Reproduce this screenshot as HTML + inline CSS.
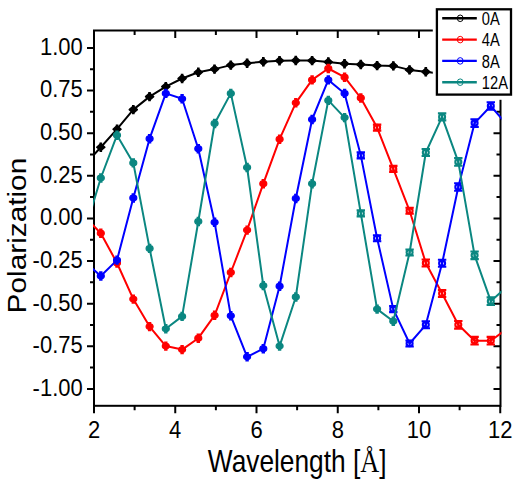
<!DOCTYPE html>
<html><head><meta charset="utf-8"><style>
html,body{margin:0;padding:0;background:#fff;width:520px;height:482px;overflow:hidden}
svg{display:block}
text{font-family:"Liberation Sans",sans-serif;fill:#000}
</style></head><body>
<svg width="520" height="482" viewBox="0 0 520 482">
<defs><clipPath id="c"><rect x="93" y="29.5" width="408.5" height="377.3"/></clipPath></defs>
<rect x="94" y="30.5" width="406.5" height="375.3" fill="none" stroke="#000" stroke-width="2"/>
<path d="M94.00 405.8v7.5M94.00 30.5v7.5M134.62 405.8v4.5M134.62 30.5v4.5M175.25 405.8v7.5M175.25 30.5v7.5M215.88 405.8v4.5M215.88 30.5v4.5M256.50 405.8v7.5M256.50 30.5v7.5M297.12 405.8v4.5M297.12 30.5v4.5M337.75 405.8v7.5M337.75 30.5v7.5M378.38 405.8v4.5M378.38 30.5v4.5M419.00 405.8v7.5M419.00 30.5v7.5M459.62 405.8v4.5M459.62 30.5v4.5M500.25 405.8v7.5M500.25 30.5v7.5M94 388.90h-7M500.5 388.90h-7M94 367.59h-4M500.5 367.59h-4M94 346.27h-7M500.5 346.27h-7M94 324.96h-4M500.5 324.96h-4M94 303.65h-7M500.5 303.65h-7M94 282.34h-4M500.5 282.34h-4M94 261.02h-7M500.5 261.02h-7M94 239.71h-4M500.5 239.71h-4M94 218.40h-7M500.5 218.40h-7M94 197.09h-4M500.5 197.09h-4M94 175.78h-7M500.5 175.78h-7M94 154.46h-4M500.5 154.46h-4M94 133.15h-7M500.5 133.15h-7M94 111.84h-4M500.5 111.84h-4M94 90.53h-7M500.5 90.53h-7M94 69.21h-4M500.5 69.21h-4M94 47.90h-7M500.5 47.90h-7" stroke="#000" stroke-width="2" fill="none"/>
<g clip-path="url(#c)" fill="none" stroke-width="2" stroke-linejoin="round">
<polyline stroke="#000000" points="84.5,165.0 100.8,147.2 117.0,129.2 133.3,109.6 149.6,96.6 165.8,86.6 182.1,78.5 198.3,72.3 214.6,69.1 230.8,65.1 247.1,63.2 263.3,61.8 279.6,60.7 295.8,60.5 312.1,60.6 328.3,62.0 344.6,63.7 360.8,64.5 377.1,65.6 393.3,65.9 409.6,69.9 425.8,71.8 442.1,74.0 458.3,76.0 474.6,78.0 490.8,80.0 507.1,82.0"/>
<g stroke="#000000" fill="#000000" stroke-width="1.4" stroke-linejoin="round"><path d="M80.5 165.0L84.5 161.4L88.6 165.0L84.5 168.6Z"/><path stroke-width="2" d="M84.5 161.3V168.7M83.2 161.3h2.6M83.2 168.7h2.6"/></g>
<g stroke="#000000" fill="#000000" stroke-width="1.4" stroke-linejoin="round"><path d="M96.7 147.2L100.8 143.6L104.9 147.2L100.8 150.8Z"/><path stroke-width="2" d="M100.8 143.5V150.9M99.5 143.5h2.6M99.5 150.9h2.6"/></g>
<g stroke="#000000" fill="#000000" stroke-width="1.4" stroke-linejoin="round"><path d="M113.0 129.2L117.0 125.6L121.1 129.2L117.0 132.8Z"/><path stroke-width="2" d="M117.0 125.5V132.9M115.8 125.5h2.6M115.8 132.9h2.6"/></g>
<g stroke="#000000" fill="#000000" stroke-width="1.4" stroke-linejoin="round"><path d="M129.2 109.6L133.3 106.0L137.4 109.6L133.3 113.2Z"/><path stroke-width="2" d="M133.3 105.9V113.3M132.0 105.9h2.6M132.0 113.3h2.6"/></g>
<g stroke="#000000" fill="#000000" stroke-width="1.4" stroke-linejoin="round"><path d="M145.5 96.6L149.6 93.0L153.7 96.6L149.6 100.2Z"/><path stroke-width="2" d="M149.6 92.9V100.3M148.2 92.9h2.6M148.2 100.3h2.6"/></g>
<g stroke="#000000" fill="#000000" stroke-width="1.4" stroke-linejoin="round"><path d="M161.7 86.6L165.8 83.0L169.9 86.6L165.8 90.2Z"/><path stroke-width="2" d="M165.8 82.9V90.3M164.5 82.9h2.6M164.5 90.3h2.6"/></g>
<g stroke="#000000" fill="#000000" stroke-width="1.4" stroke-linejoin="round"><path d="M178.0 78.5L182.1 74.9L186.2 78.5L182.1 82.1Z"/><path stroke-width="2" d="M182.1 74.8V82.2M180.8 74.8h2.6M180.8 82.2h2.6"/></g>
<g stroke="#000000" fill="#000000" stroke-width="1.4" stroke-linejoin="round"><path d="M194.2 72.3L198.3 68.7L202.4 72.3L198.3 75.9Z"/><path stroke-width="2" d="M198.3 68.6V76.0M197.0 68.6h2.6M197.0 76.0h2.6"/></g>
<g stroke="#000000" fill="#000000" stroke-width="1.4" stroke-linejoin="round"><path d="M210.5 69.1L214.6 65.5L218.7 69.1L214.6 72.7Z"/><path stroke-width="2" d="M214.6 65.4V72.8M213.2 65.4h2.6M213.2 72.8h2.6"/></g>
<g stroke="#000000" fill="#000000" stroke-width="1.4" stroke-linejoin="round"><path d="M226.7 65.1L230.8 61.5L234.9 65.1L230.8 68.7Z"/><path stroke-width="2" d="M230.8 61.4V68.8M229.5 61.4h2.6M229.5 68.8h2.6"/></g>
<g stroke="#000000" fill="#000000" stroke-width="1.4" stroke-linejoin="round"><path d="M243.0 63.2L247.1 59.6L251.2 63.2L247.1 66.8Z"/><path stroke-width="2" d="M247.1 59.5V66.9M245.8 59.5h2.6M245.8 66.9h2.6"/></g>
<g stroke="#000000" fill="#000000" stroke-width="1.4" stroke-linejoin="round"><path d="M259.2 61.8L263.3 58.2L267.4 61.8L263.3 65.4Z"/><path stroke-width="2" d="M263.3 58.1V65.5M262.0 58.1h2.6M262.0 65.5h2.6"/></g>
<g stroke="#000000" fill="#000000" stroke-width="1.4" stroke-linejoin="round"><path d="M275.4 60.7L279.6 57.1L283.7 60.7L279.6 64.3Z"/><path stroke-width="2" d="M279.6 57.0V64.4M278.2 57.0h2.6M278.2 64.4h2.6"/></g>
<g stroke="#000000" fill="#000000" stroke-width="1.4" stroke-linejoin="round"><path d="M291.7 60.5L295.8 56.9L299.9 60.5L295.8 64.1Z"/><path stroke-width="2" d="M295.8 56.8V64.2M294.5 56.8h2.6M294.5 64.2h2.6"/></g>
<g stroke="#000000" fill="#000000" stroke-width="1.4" stroke-linejoin="round"><path d="M307.9 60.6L312.1 57.0L316.2 60.6L312.1 64.2Z"/><path stroke-width="2" d="M312.1 56.9V64.3M310.8 56.9h2.6M310.8 64.3h2.6"/></g>
<g stroke="#000000" fill="#000000" stroke-width="1.4" stroke-linejoin="round"><path d="M324.2 62.0L328.3 58.4L332.4 62.0L328.3 65.6Z"/><path stroke-width="2" d="M328.3 58.3V65.7M327.0 58.3h2.6M327.0 65.7h2.6"/></g>
<g stroke="#000000" fill="#000000" stroke-width="1.4" stroke-linejoin="round"><path d="M340.4 63.7L344.6 60.1L348.7 63.7L344.6 67.3Z"/><path stroke-width="2" d="M344.6 60.0V67.4M343.2 60.0h2.6M343.2 67.4h2.6"/></g>
<g stroke="#000000" fill="#000000" stroke-width="1.4" stroke-linejoin="round"><path d="M356.7 64.5L360.8 60.9L364.9 64.5L360.8 68.1Z"/><path stroke-width="2" d="M360.8 60.8V68.2M359.5 60.8h2.6M359.5 68.2h2.6"/></g>
<g stroke="#000000" fill="#000000" stroke-width="1.4" stroke-linejoin="round"><path d="M372.9 65.6L377.1 62.0L381.2 65.6L377.1 69.2Z"/><path stroke-width="2" d="M377.1 61.9V69.3M375.8 61.9h2.6M375.8 69.3h2.6"/></g>
<g stroke="#000000" fill="#000000" stroke-width="1.4" stroke-linejoin="round"><path d="M389.2 65.9L393.3 62.3L397.4 65.9L393.3 69.5Z"/><path stroke-width="2" d="M393.3 62.2V69.6M392.0 62.2h2.6M392.0 69.6h2.6"/></g>
<g stroke="#000000" fill="#000000" stroke-width="1.4" stroke-linejoin="round"><path d="M405.4 69.9L409.6 66.3L413.7 69.9L409.6 73.5Z"/><path stroke-width="2" d="M409.6 66.2V73.6M408.2 66.2h2.6M408.2 73.6h2.6"/></g>
<g stroke="#000000" fill="#000000" stroke-width="1.4" stroke-linejoin="round"><path d="M421.7 71.8L425.8 68.2L429.9 71.8L425.8 75.4Z"/><path stroke-width="2" d="M425.8 68.1V75.5M424.5 68.1h2.6M424.5 75.5h2.6"/></g>
<g stroke="#000000" fill="#000000" stroke-width="1.4" stroke-linejoin="round"><path d="M437.9 74.0L442.1 70.4L446.2 74.0L442.1 77.6Z"/><path stroke-width="2" d="M442.1 70.3V77.7M440.8 70.3h2.6M440.8 77.7h2.6"/></g>
<g stroke="#000000" fill="#000000" stroke-width="1.4" stroke-linejoin="round"><path d="M454.2 76.0L458.3 72.4L462.4 76.0L458.3 79.6Z"/><path stroke-width="2" d="M458.3 72.3V79.7M457.0 72.3h2.6M457.0 79.7h2.6"/></g>
<g stroke="#000000" fill="#000000" stroke-width="1.4" stroke-linejoin="round"><path d="M470.4 78.0L474.6 74.4L478.7 78.0L474.6 81.6Z"/><path stroke-width="2" d="M474.6 74.3V81.7M473.2 74.3h2.6M473.2 81.7h2.6"/></g>
<g stroke="#000000" fill="#000000" stroke-width="1.4" stroke-linejoin="round"><path d="M486.7 80.0L490.8 76.4L494.9 80.0L490.8 83.6Z"/><path stroke-width="2" d="M490.8 76.3V83.7M489.5 76.3h2.6M489.5 83.7h2.6"/></g>
<g stroke="#000000" fill="#000000" stroke-width="1.4" stroke-linejoin="round"><path d="M502.9 82.0L507.1 78.4L511.2 82.0L507.1 85.6Z"/><path stroke-width="2" d="M507.1 78.3V85.7M505.8 78.3h2.6M505.8 85.7h2.6"/></g>
<polyline stroke="#ff0000" points="84.5,216.5 100.8,233.2 117.0,263.0 133.3,299.1 149.6,326.6 165.8,346.1 182.1,349.6 198.3,338.2 214.6,315.3 230.8,272.5 247.1,230.1 263.3,183.7 279.6,139.2 295.8,102.8 312.1,79.9 328.3,68.5 344.6,77.2 360.8,98.0 377.1,127.6 393.3,168.9 409.6,210.8 425.8,263.0 442.1,293.5 458.3,324.8 474.6,340.7 490.8,340.7 507.1,328.6"/>
<g stroke="#ff0000" fill="#ff0000" stroke-width="1.2"><ellipse cx="84.5" cy="216.5" rx="3.5" ry="2.8"/><path stroke-width="2" d="M84.5 212.8V220.2M82.8 212.8h3.4M82.8 220.2h3.4"/></g>
<g stroke="#ff0000" fill="#ff0000" stroke-width="1.2"><ellipse cx="100.8" cy="233.2" rx="3.5" ry="2.8"/><path stroke-width="2" d="M100.8 229.5V236.9M99.1 229.5h3.4M99.1 236.9h3.4"/></g>
<g stroke="#ff0000" fill="#ff0000" stroke-width="1.2"><ellipse cx="117.0" cy="263.0" rx="3.5" ry="2.8"/><path stroke-width="2" d="M117.0 259.3V266.7M115.3 259.3h3.4M115.3 266.7h3.4"/></g>
<g stroke="#ff0000" fill="#ff0000" stroke-width="1.2"><ellipse cx="133.3" cy="299.1" rx="3.5" ry="2.8"/><path stroke-width="2" d="M133.3 295.4V302.8M131.6 295.4h3.4M131.6 302.8h3.4"/></g>
<g stroke="#ff0000" fill="#ff0000" stroke-width="1.2"><ellipse cx="149.6" cy="326.6" rx="3.5" ry="2.8"/><path stroke-width="2" d="M149.6 322.9V330.3M147.9 322.9h3.4M147.9 330.3h3.4"/></g>
<g stroke="#ff0000" fill="#ff0000" stroke-width="1.2"><ellipse cx="165.8" cy="346.1" rx="3.5" ry="2.8"/><path stroke-width="2" d="M165.8 342.4V349.8M164.1 342.4h3.4M164.1 349.8h3.4"/></g>
<g stroke="#ff0000" fill="#ff0000" stroke-width="1.2"><ellipse cx="182.1" cy="349.6" rx="3.5" ry="2.8"/><path stroke-width="2" d="M182.1 345.9V353.3M180.4 345.9h3.4M180.4 353.3h3.4"/></g>
<g stroke="#ff0000" fill="#ff0000" stroke-width="1.2"><ellipse cx="198.3" cy="338.2" rx="3.5" ry="2.8"/><path stroke-width="2" d="M198.3 334.5V341.9M196.6 334.5h3.4M196.6 341.9h3.4"/></g>
<g stroke="#ff0000" fill="#ff0000" stroke-width="1.2"><ellipse cx="214.6" cy="315.3" rx="3.5" ry="2.8"/><path stroke-width="2" d="M214.6 311.6V319.0M212.9 311.6h3.4M212.9 319.0h3.4"/></g>
<g stroke="#ff0000" fill="#ff0000" stroke-width="1.2"><ellipse cx="230.8" cy="272.5" rx="3.5" ry="2.8"/><path stroke-width="2" d="M230.8 268.8V276.2M229.1 268.8h3.4M229.1 276.2h3.4"/></g>
<g stroke="#ff0000" fill="#ff0000" stroke-width="1.2"><ellipse cx="247.1" cy="230.1" rx="3.5" ry="2.8"/><path stroke-width="2" d="M247.1 226.4V233.8M245.4 226.4h3.4M245.4 233.8h3.4"/></g>
<g stroke="#ff0000" fill="#ff0000" stroke-width="1.2"><ellipse cx="263.3" cy="183.7" rx="3.5" ry="2.8"/><path stroke-width="2" d="M263.3 180.0V187.4M261.6 180.0h3.4M261.6 187.4h3.4"/></g>
<g stroke="#ff0000" fill="#ff0000" stroke-width="1.2"><ellipse cx="279.6" cy="139.2" rx="3.5" ry="2.8"/><path stroke-width="2" d="M279.6 135.5V142.9M277.9 135.5h3.4M277.9 142.9h3.4"/></g>
<g stroke="#ff0000" fill="#ff0000" stroke-width="1.2"><ellipse cx="295.8" cy="102.8" rx="3.5" ry="2.8"/><path stroke-width="2" d="M295.8 99.1V106.5M294.1 99.1h3.4M294.1 106.5h3.4"/></g>
<g stroke="#ff0000" fill="#ff0000" stroke-width="1.2"><ellipse cx="312.1" cy="79.9" rx="3.5" ry="2.8"/><path stroke-width="2" d="M312.1 76.2V83.6M310.4 76.2h3.4M310.4 83.6h3.4"/></g>
<g stroke="#ff0000" fill="#ff0000" stroke-width="1.2"><ellipse cx="328.3" cy="68.5" rx="3.5" ry="2.8"/><path stroke-width="2" d="M328.3 64.8V72.2M326.6 64.8h3.4M326.6 72.2h3.4"/></g>
<g stroke="#ff0000" fill="#ff0000" stroke-width="1.2"><ellipse cx="344.6" cy="77.2" rx="3.5" ry="2.8"/><path stroke-width="2" d="M344.6 73.5V80.9M342.9 73.5h3.4M342.9 80.9h3.4"/></g>
<g stroke="#ff0000" fill="#ff0000" stroke-width="1.2"><ellipse cx="360.8" cy="98.0" rx="3.5" ry="2.8"/><path stroke-width="2" d="M360.8 94.3V101.7M359.1 94.3h3.4M359.1 101.7h3.4"/></g>
<g stroke="#ff0000" fill="none" stroke-width="2.1"><ellipse cx="377.1" cy="127.6" rx="3.0" ry="2.7"/><path d="M377.1 124.6V130.6M372.9 124.6h8.4M372.9 130.6h8.4"/></g>
<g stroke="#ff0000" fill="none" stroke-width="2.1"><ellipse cx="393.3" cy="168.9" rx="3.0" ry="2.7"/><path d="M393.3 165.9V171.9M389.1 165.9h8.4M389.1 171.9h8.4"/></g>
<g stroke="#ff0000" fill="none" stroke-width="2.1"><ellipse cx="409.6" cy="210.8" rx="3.0" ry="2.7"/><path d="M409.6 207.8V213.8M405.4 207.8h8.4M405.4 213.8h8.4"/></g>
<g stroke="#ff0000" fill="none" stroke-width="2.1"><ellipse cx="425.8" cy="263.0" rx="3.0" ry="2.7"/><path d="M425.8 259.5V266.5M421.6 259.5h8.4M421.6 266.5h8.4"/></g>
<g stroke="#ff0000" fill="none" stroke-width="2.1"><ellipse cx="442.1" cy="293.5" rx="3.0" ry="2.7"/><path d="M442.1 290.0V297.0M437.9 290.0h8.4M437.9 297.0h8.4"/></g>
<g stroke="#ff0000" fill="none" stroke-width="2.1"><ellipse cx="458.3" cy="324.8" rx="3.0" ry="2.7"/><path d="M458.3 321.0V328.6M454.1 321.0h8.4M454.1 328.6h8.4"/></g>
<g stroke="#ff0000" fill="none" stroke-width="2.1"><ellipse cx="474.6" cy="340.7" rx="3.0" ry="2.7"/><path d="M474.6 336.9V344.5M470.4 336.9h8.4M470.4 344.5h8.4"/></g>
<g stroke="#ff0000" fill="none" stroke-width="2.1"><ellipse cx="490.8" cy="340.7" rx="3.0" ry="2.7"/><path d="M490.8 336.9V344.5M486.6 336.9h8.4M486.6 344.5h8.4"/></g>
<g stroke="#ff0000" fill="none" stroke-width="2.1"><ellipse cx="507.1" cy="328.6" rx="3.0" ry="2.7"/><path d="M507.1 324.8V332.4M502.9 324.8h8.4M502.9 332.4h8.4"/></g>
<polyline stroke="#0000ff" points="84.5,261.5 100.8,276.0 117.0,260.1 133.3,198.0 149.6,138.7 165.8,93.4 182.1,98.8 198.3,148.7 214.6,222.3 230.8,315.8 247.1,356.8 263.3,348.7 279.6,286.2 295.8,198.5 312.1,119.5 328.3,79.9 344.6,93.4 360.8,155.4 377.1,238.2 393.3,309.1 409.6,343.5 425.8,324.8 442.1,263.3 458.3,187.0 474.6,123.1 490.8,106.0 507.1,124.9"/>
<g stroke="#0000ff" fill="#0000ff" stroke-width="1.2"><ellipse cx="84.5" cy="261.5" rx="3.5" ry="2.8"/><path stroke-width="2" d="M84.5 257.8V265.2M82.8 257.8h3.4M82.8 265.2h3.4"/></g>
<g stroke="#0000ff" fill="#0000ff" stroke-width="1.2"><ellipse cx="100.8" cy="276.0" rx="3.5" ry="2.8"/><path stroke-width="2" d="M100.8 272.3V279.7M99.1 272.3h3.4M99.1 279.7h3.4"/></g>
<g stroke="#0000ff" fill="#0000ff" stroke-width="1.2"><ellipse cx="117.0" cy="260.1" rx="3.5" ry="2.8"/><path stroke-width="2" d="M117.0 256.4V263.8M115.3 256.4h3.4M115.3 263.8h3.4"/></g>
<g stroke="#0000ff" fill="#0000ff" stroke-width="1.2"><ellipse cx="133.3" cy="198.0" rx="3.5" ry="2.8"/><path stroke-width="2" d="M133.3 194.3V201.7M131.6 194.3h3.4M131.6 201.7h3.4"/></g>
<g stroke="#0000ff" fill="#0000ff" stroke-width="1.2"><ellipse cx="149.6" cy="138.7" rx="3.5" ry="2.8"/><path stroke-width="2" d="M149.6 135.0V142.4M147.9 135.0h3.4M147.9 142.4h3.4"/></g>
<g stroke="#0000ff" fill="#0000ff" stroke-width="1.2"><ellipse cx="165.8" cy="93.4" rx="3.5" ry="2.8"/><path stroke-width="2" d="M165.8 89.7V97.1M164.1 89.7h3.4M164.1 97.1h3.4"/></g>
<g stroke="#0000ff" fill="#0000ff" stroke-width="1.2"><ellipse cx="182.1" cy="98.8" rx="3.5" ry="2.8"/><path stroke-width="2" d="M182.1 95.1V102.5M180.4 95.1h3.4M180.4 102.5h3.4"/></g>
<g stroke="#0000ff" fill="#0000ff" stroke-width="1.2"><ellipse cx="198.3" cy="148.7" rx="3.5" ry="2.8"/><path stroke-width="2" d="M198.3 145.0V152.4M196.6 145.0h3.4M196.6 152.4h3.4"/></g>
<g stroke="#0000ff" fill="#0000ff" stroke-width="1.2"><ellipse cx="214.6" cy="222.3" rx="3.5" ry="2.8"/><path stroke-width="2" d="M214.6 218.6V226.0M212.9 218.6h3.4M212.9 226.0h3.4"/></g>
<g stroke="#0000ff" fill="#0000ff" stroke-width="1.2"><ellipse cx="230.8" cy="315.8" rx="3.5" ry="2.8"/><path stroke-width="2" d="M230.8 312.1V319.5M229.1 312.1h3.4M229.1 319.5h3.4"/></g>
<g stroke="#0000ff" fill="#0000ff" stroke-width="1.2"><ellipse cx="247.1" cy="356.8" rx="3.5" ry="2.8"/><path stroke-width="2" d="M247.1 353.1V360.5M245.4 353.1h3.4M245.4 360.5h3.4"/></g>
<g stroke="#0000ff" fill="#0000ff" stroke-width="1.2"><ellipse cx="263.3" cy="348.7" rx="3.5" ry="2.8"/><path stroke-width="2" d="M263.3 345.0V352.4M261.6 345.0h3.4M261.6 352.4h3.4"/></g>
<g stroke="#0000ff" fill="#0000ff" stroke-width="1.2"><ellipse cx="279.6" cy="286.2" rx="3.5" ry="2.8"/><path stroke-width="2" d="M279.6 282.5V289.9M277.9 282.5h3.4M277.9 289.9h3.4"/></g>
<g stroke="#0000ff" fill="#0000ff" stroke-width="1.2"><ellipse cx="295.8" cy="198.5" rx="3.5" ry="2.8"/><path stroke-width="2" d="M295.8 194.8V202.2M294.1 194.8h3.4M294.1 202.2h3.4"/></g>
<g stroke="#0000ff" fill="#0000ff" stroke-width="1.2"><ellipse cx="312.1" cy="119.5" rx="3.5" ry="2.8"/><path stroke-width="2" d="M312.1 115.8V123.2M310.4 115.8h3.4M310.4 123.2h3.4"/></g>
<g stroke="#0000ff" fill="#0000ff" stroke-width="1.2"><ellipse cx="328.3" cy="79.9" rx="3.5" ry="2.8"/><path stroke-width="2" d="M328.3 76.2V83.6M326.6 76.2h3.4M326.6 83.6h3.4"/></g>
<g stroke="#0000ff" fill="#0000ff" stroke-width="1.2"><ellipse cx="344.6" cy="93.4" rx="3.5" ry="2.8"/><path stroke-width="2" d="M344.6 89.7V97.1M342.9 89.7h3.4M342.9 97.1h3.4"/></g>
<g stroke="#0000ff" fill="none" stroke-width="2.1"><ellipse cx="360.8" cy="155.4" rx="3.0" ry="2.7"/><path d="M360.8 152.4V158.4M356.6 152.4h8.4M356.6 158.4h8.4"/></g>
<g stroke="#0000ff" fill="none" stroke-width="2.1"><ellipse cx="377.1" cy="238.2" rx="3.0" ry="2.7"/><path d="M377.1 235.2V241.2M372.9 235.2h8.4M372.9 241.2h8.4"/></g>
<g stroke="#0000ff" fill="none" stroke-width="2.1"><ellipse cx="393.3" cy="309.1" rx="3.0" ry="2.7"/><path d="M393.3 306.1V312.1M389.1 306.1h8.4M389.1 312.1h8.4"/></g>
<g stroke="#0000ff" fill="none" stroke-width="2.1"><ellipse cx="409.6" cy="343.5" rx="3.0" ry="2.7"/><path d="M409.6 340.5V346.5M405.4 340.5h8.4M405.4 346.5h8.4"/></g>
<g stroke="#0000ff" fill="none" stroke-width="2.1"><ellipse cx="425.8" cy="324.8" rx="3.0" ry="2.7"/><path d="M425.8 321.3V328.3M421.6 321.3h8.4M421.6 328.3h8.4"/></g>
<g stroke="#0000ff" fill="none" stroke-width="2.1"><ellipse cx="442.1" cy="263.3" rx="3.0" ry="2.7"/><path d="M442.1 259.8V266.8M437.9 259.8h8.4M437.9 266.8h8.4"/></g>
<g stroke="#0000ff" fill="none" stroke-width="2.1"><ellipse cx="458.3" cy="187.0" rx="3.0" ry="2.7"/><path d="M458.3 183.2V190.8M454.1 183.2h8.4M454.1 190.8h8.4"/></g>
<g stroke="#0000ff" fill="none" stroke-width="2.1"><ellipse cx="474.6" cy="123.1" rx="3.0" ry="2.7"/><path d="M474.6 119.3V126.9M470.4 119.3h8.4M470.4 126.9h8.4"/></g>
<g stroke="#0000ff" fill="none" stroke-width="2.1"><ellipse cx="490.8" cy="106.0" rx="3.0" ry="2.7"/><path d="M490.8 102.2V109.8M486.6 102.2h8.4M486.6 109.8h8.4"/></g>
<g stroke="#0000ff" fill="none" stroke-width="2.1"><ellipse cx="507.1" cy="124.9" rx="3.0" ry="2.7"/><path d="M507.1 121.1V128.7M502.9 121.1h8.4M502.9 128.7h8.4"/></g>
<polyline stroke="#0b8781" points="84.5,232.0 100.8,178.0 117.0,135.2 133.3,162.9 149.6,248.4 165.8,328.8 182.1,316.4 198.3,221.5 214.6,123.5 230.8,93.4 247.1,167.5 263.3,285.6 279.6,346.1 295.8,297.0 312.1,183.7 328.3,100.4 344.6,117.6 360.8,213.4 377.1,309.1 393.3,321.2 409.6,252.5 425.8,152.5 442.1,116.9 458.3,161.9 474.6,255.3 490.8,301.2 507.1,286.4"/>
<g stroke="#0b8781" fill="#0b8781" stroke-width="1.2"><ellipse cx="84.5" cy="232.0" rx="3.5" ry="2.8"/><path stroke-width="2" d="M84.5 228.3V235.7M82.8 228.3h3.4M82.8 235.7h3.4"/></g>
<g stroke="#0b8781" fill="#0b8781" stroke-width="1.2"><ellipse cx="100.8" cy="178.0" rx="3.5" ry="2.8"/><path stroke-width="2" d="M100.8 174.3V181.7M99.1 174.3h3.4M99.1 181.7h3.4"/></g>
<g stroke="#0b8781" fill="#0b8781" stroke-width="1.2"><ellipse cx="117.0" cy="135.2" rx="3.5" ry="2.8"/><path stroke-width="2" d="M117.0 131.5V138.9M115.3 131.5h3.4M115.3 138.9h3.4"/></g>
<g stroke="#0b8781" fill="#0b8781" stroke-width="1.2"><ellipse cx="133.3" cy="162.9" rx="3.5" ry="2.8"/><path stroke-width="2" d="M133.3 159.2V166.6M131.6 159.2h3.4M131.6 166.6h3.4"/></g>
<g stroke="#0b8781" fill="#0b8781" stroke-width="1.2"><ellipse cx="149.6" cy="248.4" rx="3.5" ry="2.8"/><path stroke-width="2" d="M149.6 244.7V252.1M147.9 244.7h3.4M147.9 252.1h3.4"/></g>
<g stroke="#0b8781" fill="#0b8781" stroke-width="1.2"><ellipse cx="165.8" cy="328.8" rx="3.5" ry="2.8"/><path stroke-width="2" d="M165.8 325.1V332.5M164.1 325.1h3.4M164.1 332.5h3.4"/></g>
<g stroke="#0b8781" fill="#0b8781" stroke-width="1.2"><ellipse cx="182.1" cy="316.4" rx="3.5" ry="2.8"/><path stroke-width="2" d="M182.1 312.7V320.1M180.4 312.7h3.4M180.4 320.1h3.4"/></g>
<g stroke="#0b8781" fill="#0b8781" stroke-width="1.2"><ellipse cx="198.3" cy="221.5" rx="3.5" ry="2.8"/><path stroke-width="2" d="M198.3 217.8V225.2M196.6 217.8h3.4M196.6 225.2h3.4"/></g>
<g stroke="#0b8781" fill="#0b8781" stroke-width="1.2"><ellipse cx="214.6" cy="123.5" rx="3.5" ry="2.8"/><path stroke-width="2" d="M214.6 119.8V127.2M212.9 119.8h3.4M212.9 127.2h3.4"/></g>
<g stroke="#0b8781" fill="#0b8781" stroke-width="1.2"><ellipse cx="230.8" cy="93.4" rx="3.5" ry="2.8"/><path stroke-width="2" d="M230.8 89.7V97.1M229.1 89.7h3.4M229.1 97.1h3.4"/></g>
<g stroke="#0b8781" fill="#0b8781" stroke-width="1.2"><ellipse cx="247.1" cy="167.5" rx="3.5" ry="2.8"/><path stroke-width="2" d="M247.1 163.8V171.2M245.4 163.8h3.4M245.4 171.2h3.4"/></g>
<g stroke="#0b8781" fill="#0b8781" stroke-width="1.2"><ellipse cx="263.3" cy="285.6" rx="3.5" ry="2.8"/><path stroke-width="2" d="M263.3 281.9V289.3M261.6 281.9h3.4M261.6 289.3h3.4"/></g>
<g stroke="#0b8781" fill="#0b8781" stroke-width="1.2"><ellipse cx="279.6" cy="346.1" rx="3.5" ry="2.8"/><path stroke-width="2" d="M279.6 342.4V349.8M277.9 342.4h3.4M277.9 349.8h3.4"/></g>
<g stroke="#0b8781" fill="#0b8781" stroke-width="1.2"><ellipse cx="295.8" cy="297.0" rx="3.5" ry="2.8"/><path stroke-width="2" d="M295.8 293.3V300.7M294.1 293.3h3.4M294.1 300.7h3.4"/></g>
<g stroke="#0b8781" fill="#0b8781" stroke-width="1.2"><ellipse cx="312.1" cy="183.7" rx="3.5" ry="2.8"/><path stroke-width="2" d="M312.1 180.0V187.4M310.4 180.0h3.4M310.4 187.4h3.4"/></g>
<g stroke="#0b8781" fill="#0b8781" stroke-width="1.2"><ellipse cx="328.3" cy="100.4" rx="3.5" ry="2.8"/><path stroke-width="2" d="M328.3 96.7V104.1M326.6 96.7h3.4M326.6 104.1h3.4"/></g>
<g stroke="#0b8781" fill="#0b8781" stroke-width="1.2"><ellipse cx="344.6" cy="117.6" rx="3.5" ry="2.8"/><path stroke-width="2" d="M344.6 113.9V121.3M342.9 113.9h3.4M342.9 121.3h3.4"/></g>
<g stroke="#0b8781" fill="none" stroke-width="2.1"><ellipse cx="360.8" cy="213.4" rx="3.0" ry="2.7"/><path d="M360.8 210.4V216.4M356.6 210.4h8.4M356.6 216.4h8.4"/></g>
<g stroke="#0b8781" fill="#0b8781" stroke-width="1.2"><ellipse cx="377.1" cy="309.1" rx="3.5" ry="2.8"/><path stroke-width="2" d="M377.1 305.4V312.8M375.4 305.4h3.4M375.4 312.8h3.4"/></g>
<g stroke="#0b8781" fill="#0b8781" stroke-width="1.2"><ellipse cx="393.3" cy="321.2" rx="3.5" ry="2.8"/><path stroke-width="2" d="M393.3 317.5V324.9M391.6 317.5h3.4M391.6 324.9h3.4"/></g>
<g stroke="#0b8781" fill="none" stroke-width="2.1"><ellipse cx="409.6" cy="252.5" rx="3.0" ry="2.7"/><path d="M409.6 249.5V255.5M405.4 249.5h8.4M405.4 255.5h8.4"/></g>
<g stroke="#0b8781" fill="none" stroke-width="2.1"><ellipse cx="425.8" cy="152.5" rx="3.0" ry="2.7"/><path d="M425.8 149.0V156.0M421.6 149.0h8.4M421.6 156.0h8.4"/></g>
<g stroke="#0b8781" fill="none" stroke-width="2.1"><ellipse cx="442.1" cy="116.9" rx="3.0" ry="2.7"/><path d="M442.1 113.4V120.4M437.9 113.4h8.4M437.9 120.4h8.4"/></g>
<g stroke="#0b8781" fill="none" stroke-width="2.1"><ellipse cx="458.3" cy="161.9" rx="3.0" ry="2.7"/><path d="M458.3 158.1V165.7M454.1 158.1h8.4M454.1 165.7h8.4"/></g>
<g stroke="#0b8781" fill="none" stroke-width="2.1"><ellipse cx="474.6" cy="255.3" rx="3.0" ry="2.7"/><path d="M474.6 251.5V259.1M470.4 251.5h8.4M470.4 259.1h8.4"/></g>
<g stroke="#0b8781" fill="none" stroke-width="2.1"><ellipse cx="490.8" cy="301.2" rx="3.0" ry="2.7"/><path d="M490.8 297.4V305.0M486.6 297.4h8.4M486.6 305.0h8.4"/></g>
<g stroke="#0b8781" fill="none" stroke-width="2.1"><ellipse cx="507.1" cy="286.4" rx="3.0" ry="2.7"/><path d="M507.1 282.6V290.2M502.9 282.6h8.4M502.9 290.2h8.4"/></g>
</g>
<text transform="translate(82.7 395.8) scale(1 1.1)" text-anchor="end" font-size="22">-1.00</text>
<text transform="translate(82.7 353.2) scale(1 1.1)" text-anchor="end" font-size="22">-0.75</text>
<text transform="translate(82.7 310.5) scale(1 1.1)" text-anchor="end" font-size="22">-0.50</text>
<text transform="translate(82.7 267.9) scale(1 1.1)" text-anchor="end" font-size="22">-0.25</text>
<text transform="translate(82.7 225.3) scale(1 1.1)" text-anchor="end" font-size="22">0.00</text>
<text transform="translate(82.7 182.7) scale(1 1.1)" text-anchor="end" font-size="22">0.25</text>
<text transform="translate(82.7 140.1) scale(1 1.1)" text-anchor="end" font-size="22">0.50</text>
<text transform="translate(82.7 97.4) scale(1 1.1)" text-anchor="end" font-size="22">0.75</text>
<text transform="translate(82.7 54.8) scale(1 1.1)" text-anchor="end" font-size="22">1.00</text>
<text transform="translate(94.0 438.0) scale(1 1.1)" text-anchor="middle" font-size="22">2</text>
<text transform="translate(175.2 438.0) scale(1 1.1)" text-anchor="middle" font-size="22">4</text>
<text transform="translate(256.5 438.0) scale(1 1.1)" text-anchor="middle" font-size="22">6</text>
<text transform="translate(337.8 438.0) scale(1 1.1)" text-anchor="middle" font-size="22">8</text>
<text transform="translate(419.0 438.0) scale(1 1.1)" text-anchor="middle" font-size="22">10</text>
<text transform="translate(500.2 438.0) scale(1 1.1)" text-anchor="middle" font-size="22">12</text>
<text transform="translate(207.8 471.6) scale(1 1.17)" font-size="26.3">Wavelength [<tspan font-family="Liberation Serif">Å</tspan>]</text>
<text transform="translate(25.7 313.4) scale(1 1.116) rotate(-90)" font-size="26.7">Polarization</text>
<rect x="432.8" y="6" width="84" height="93.8" fill="#fff"/>
<rect x="436.9" y="9.3" width="74.1" height="85.3" fill="#fff" stroke="#000" stroke-width="2.3"/>
<path d="M442.2 18.3H476.8" stroke="#000000" stroke-width="2.4"/>
<ellipse cx="460.2" cy="18.3" rx="2.9" ry="3.3" fill="none" stroke="#000000" stroke-width="1"/>
<text transform="translate(481.8 25.0) scale(1 1.2)" font-size="14.7">0A</text>
<path d="M442.2 39.6H476.8" stroke="#ff0000" stroke-width="2.4"/>
<ellipse cx="460.2" cy="39.6" rx="2.9" ry="3.3" fill="none" stroke="#ff0000" stroke-width="1"/>
<text transform="translate(481.8 46.3) scale(1 1.2)" font-size="14.7">4A</text>
<path d="M442.2 60.9H476.8" stroke="#0000ff" stroke-width="2.4"/>
<ellipse cx="460.2" cy="60.9" rx="2.9" ry="3.3" fill="none" stroke="#0000ff" stroke-width="1"/>
<text transform="translate(481.8 67.6) scale(1 1.2)" font-size="14.7">8A</text>
<path d="M442.2 82.2H476.8" stroke="#0b8781" stroke-width="2.4"/>
<ellipse cx="460.2" cy="82.2" rx="2.9" ry="3.3" fill="none" stroke="#0b8781" stroke-width="1"/>
<text transform="translate(481.8 88.9) scale(1 1.2)" font-size="14.7">12A</text>
</svg>
</body></html>
